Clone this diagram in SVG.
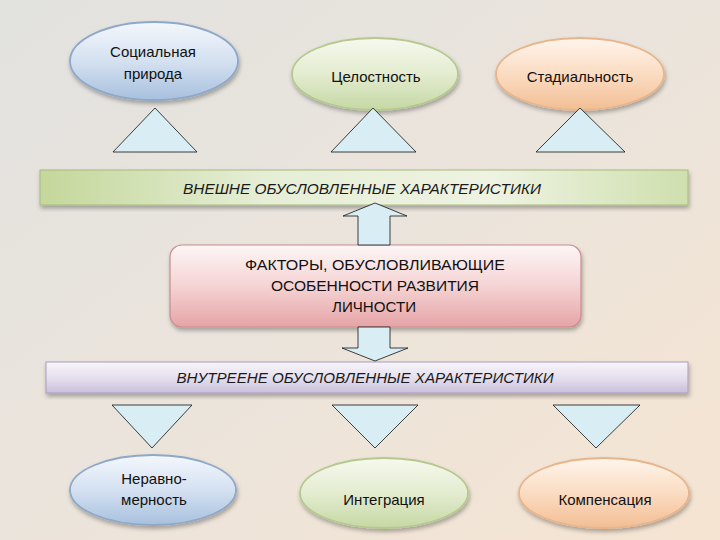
<svg xmlns="http://www.w3.org/2000/svg" width="720" height="540" viewBox="0 0 720 540">
<defs>
<linearGradient id="bg" x1="0" y1="0" x2="1" y2="1">
<stop offset="0" stop-color="#e2e2df"/><stop offset="0.5" stop-color="#ebe4dc"/><stop offset="1" stop-color="#f6e4d2"/>
</linearGradient>
<linearGradient id="gBlue" x1="0" y1="0" x2="0" y2="1">
<stop offset="0" stop-color="#f4f7fc"/><stop offset="0.5" stop-color="#d4e1f1"/><stop offset="1" stop-color="#a8c0de"/>
</linearGradient>
<linearGradient id="gGreen" x1="0" y1="0" x2="0" y2="1">
<stop offset="0" stop-color="#f6f9ee"/><stop offset="0.5" stop-color="#e3ecd0"/><stop offset="1" stop-color="#c6d8a4"/>
</linearGradient>
<linearGradient id="gOrange" x1="0" y1="0" x2="0" y2="1">
<stop offset="0" stop-color="#fef5ec"/><stop offset="0.5" stop-color="#fbdcc2"/><stop offset="1" stop-color="#f2be94"/>
</linearGradient>
<linearGradient id="gBand1" x1="0" y1="0" x2="1" y2="0">
<stop offset="0" stop-color="#c4d79b"/><stop offset="0.35" stop-color="#e6eed6"/><stop offset="0.7" stop-color="#eef3e2"/><stop offset="1" stop-color="#cfdfae"/>
</linearGradient>
<linearGradient id="gBand2" x1="0" y1="0" x2="0" y2="1">
<stop offset="0" stop-color="#f7f5fa"/><stop offset="0.5" stop-color="#e6e0ee"/><stop offset="1" stop-color="#c9bfda"/>
</linearGradient>
<linearGradient id="gPink" x1="0" y1="0" x2="0" y2="1">
<stop offset="0" stop-color="#fdf6f6"/><stop offset="0.5" stop-color="#f5d3d3"/><stop offset="1" stop-color="#e6a4a6"/>
</linearGradient>
<filter id="sh" x="-10%" y="-10%" width="120%" height="130%">
<feDropShadow dx="1" dy="3" stdDeviation="2" flood-color="#000" flood-opacity="0.3"/>
</filter>
<style>
.t{font-family:"Liberation Sans","DejaVu Sans",sans-serif;font-size:15px;fill:#111;text-anchor:middle}
.b{font-family:"Liberation Sans","DejaVu Sans",sans-serif;font-size:14px;font-style:italic;fill:#1a1a1a;text-anchor:middle}
.p{font-family:"Liberation Sans","DejaVu Sans",sans-serif;font-size:14px;fill:#111;text-anchor:middle}
.tri{fill:#d9edf5;stroke:#111;stroke-width:0.8}
.arr{fill:#d9edf5;stroke:#111;stroke-width:0.8}
</style>
</defs>
<rect width="720" height="540" fill="url(#bg)"/>

<g id="n-social"><ellipse cx="154" cy="61" rx="84" ry="39" fill="url(#gBlue)" stroke="#8ea8c8" stroke-width="1.8" filter="url(#sh)"/>
<text class="t" x="153" y="57">Социальная</text><text class="t" x="153" y="79">природа</text></g>
<g id="n-integrity"><ellipse cx="375" cy="74" rx="83" ry="36" fill="url(#gGreen)" stroke="#b5c98e" stroke-width="1.8" filter="url(#sh)"/>
<text class="t" x="376" y="82">Целостность</text></g>
<g id="n-stadial"><ellipse cx="580" cy="74" rx="84" ry="36" fill="url(#gOrange)" stroke="#e8b48a" stroke-width="1.8" filter="url(#sh)"/>
<text class="t" x="580" y="82">Стадиальность</text></g>

<g id="n-external"><rect x="40" y="170" width="648" height="35" fill="url(#gBand1)" stroke="#a6bb7c" stroke-width="1" filter="url(#sh)"/>
<text class="b" x="362" y="194" textLength="358" lengthAdjust="spacingAndGlyphs">ВНЕШНЕ ОБУСЛОВЛЕННЫЕ ХАРАКТЕРИСТИКИ</text></g>

<g id="n-factors"><rect x="170" y="245" width="411" height="82" rx="12" fill="url(#gPink)" stroke="#c98c8e" stroke-width="1.2" filter="url(#sh)"/>
<text class="p" x="375" y="270" textLength="260" lengthAdjust="spacingAndGlyphs">ФАКТОРЫ, ОБУСЛОВЛИВАЮЩИЕ</text>
<text class="p" x="375" y="291" textLength="208" lengthAdjust="spacingAndGlyphs">ОСОБЕННОСТИ  РАЗВИТИЯ</text>
<text class="p" x="374" y="312" textLength="84" lengthAdjust="spacingAndGlyphs">ЛИЧНОСТИ</text></g>

<g id="n-internal"><rect x="46" y="362" width="642" height="31" fill="url(#gBand2)" stroke="#a99dbd" stroke-width="1" filter="url(#sh)"/>
<text class="b" x="365" y="383" textLength="377" lengthAdjust="spacingAndGlyphs">ВНУТРЕЕНЕ ОБУСЛОВЛЕННЫЕ ХАРАКТЕРИСТИКИ</text></g>

<g id="n-uneven"><ellipse cx="153" cy="490" rx="83" ry="35" fill="url(#gBlue)" stroke="#8ea8c8" stroke-width="1.8" filter="url(#sh)"/>
<text class="t" x="154" y="484">Неравно-</text><text class="t" x="154" y="505">мерность</text></g>
<g id="n-integration"><ellipse cx="384" cy="493" rx="84" ry="35" fill="url(#gGreen)" stroke="#b5c98e" stroke-width="1.8" filter="url(#sh)"/>
<text class="t" x="384" y="505">Интеграция</text></g>
<g id="n-compensation"><ellipse cx="604" cy="493" rx="85" ry="35" fill="url(#gOrange)" stroke="#e8b48a" stroke-width="1.8" filter="url(#sh)"/>
<text class="t" x="605" y="505">Компенсация</text></g>

<g id="connectors">
<polygon class="tri" points="113,152 155,108 197,152"/>
<polygon class="tri" points="331,152 373,108 416,152"/>
<polygon class="tri" points="536,152 580,108 625,152"/>
<polygon class="arr" points="358,245 358,216 343,216 375,203 407,216 390,216 390,245"/>
<polygon class="arr" points="358,327 358,348 342,348 375,361 408,348 390,348 390,327"/>
<polygon class="tri" points="112,405 192,405 152,448"/>
<polygon class="tri" points="332,405 418,405 375,448"/>
<polygon class="tri" points="553,405 640,405 596,448"/>
</g>
</svg>
